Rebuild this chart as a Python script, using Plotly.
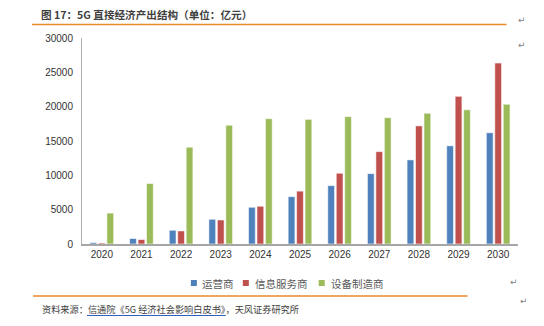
import plotly.graph_objects as go

years = ["2020", "2021", "2022", "2023", "2024", "2025", "2026", "2027", "2028", "2029", "2030"]
operators = [200, 800, 2000, 3600, 5350, 6900, 8500, 10250, 12250, 14300, 16200]
info_services = [150, 650, 1900, 3500, 5500, 7700, 10300, 13450, 17200, 21500, 26350]
equipment = [4500, 8800, 14100, 17300, 18250, 18150, 18550, 18400, 19050, 19550, 20350]
series_names = ["运营商", "信息服务商", "设备制造商"]
colors = ["#4F81BD", "#C0504D", "#9BBB59"]
yticks = [0, 5000, 10000, 15000, 20000, 25000, 30000]
ytick_text = ["0", "5000", "10000", "15000", "20000", "25000", "30000"]

W, H = 544, 326
L, R, T, B = 82, 518.5, 38, 244

def xp(px):
    return (px - L) / (R - L)

def yp(py):
    return (B - py) / (B - T)

fig = go.Figure()
for name, vals, c in zip(series_names, [operators, info_services, equipment], colors):
    fig.add_trace(go.Bar(
        x=years, y=vals, name=name,
        marker=dict(color=c, line=dict(color="rgba(255,255,255,0.7)", width=0.8)),
    ))

cjk = "Noto Sans CJK SC"
num = "Arial, Liberation Sans, sans-serif"
fig.update_layout(
    width=W, height=H,
    margin=dict(l=L, r=W - R, t=T, b=H - B),
    paper_bgcolor="white", plot_bgcolor="white",
    barmode="group", bargap=0.36, bargroupgap=0.2,
    showlegend=False,
    xaxis=dict(showline=True, linecolor="#A6A6A6", linewidth=1.5, ticks="",
               tickfont=dict(family=num, size=10, color="#333333"),
               showgrid=False),
    yaxis=dict(range=[0, 30000], tickvals=yticks, ticktext=ytick_text, showline=True,
               linecolor="#B0B0B0", linewidth=1, ticks="", showgrid=False, zeroline=False,
               tickfont=dict(family=num, size=10, color="#333333"), ticklabelstandoff=6),
    font=dict(family=cjk),
)

# Legend drawn as colored squares + text
legend_pos = [(191, 200), (243, 253), (319, 329)]
for (sx, tx), name, c in zip(legend_pos, series_names, colors):
    fig.add_shape(type="rect", xref="paper", yref="paper",
                  x0=xp(sx), x1=xp(sx + 6), y0=yp(286), y1=yp(280),
                  fillcolor=c, line=dict(width=0))
    fig.add_annotation(text=name, xref="paper", yref="paper", x=xp(tx), y=yp(283),
                       xanchor="left", yanchor="middle", showarrow=False,
                       font=dict(family=cjk, size=10.5, color="#595959"))

# Title
fig.add_annotation(text="<b>图 17：5G 直接经济产出结构（单位：亿元）</b>",
                   xref="paper", yref="paper", x=xp(39), y=yp(14),
                   xanchor="left", yanchor="middle", showarrow=False,
                   font=dict(family=cjk, size=10.6, color="#3F3F3F"))
# Orange rules
fig.add_shape(type="line", xref="paper", yref="paper", x0=xp(32), x1=xp(507),
              y0=yp(24.5), y1=yp(24.5), line=dict(color="#E98A2D", width=1.5))
fig.add_shape(type="line", xref="paper", yref="paper", x0=xp(33), x1=xp(468),
              y0=yp(296), y1=yp(296), line=dict(color="#E98A2D", width=1.5))
# Source
fig.add_annotation(text="资料来源：信通院《5G 经济社会影响白皮书》，天风证券研究所",
                   xref="paper", yref="paper", x=xp(40), y=yp(309),
                   xanchor="left", yanchor="middle", showarrow=False,
                   font=dict(family=cjk, size=9.2, color="#404040"))
fig.add_shape(type="line", xref="paper", yref="paper", x0=xp(87), x1=xp(226),
              y0=yp(315.5), y1=yp(315.5), line=dict(color="#2F5FC0", width=1))
# paragraph marks
for (x, y) in [(529, 13), (529, 38), (521, 289), (531, 308)]:
    fig.add_annotation(text="↵", xref="paper", yref="paper", x=xp(x), y=yp(y),
                       showarrow=False, font=dict(family="DejaVu Sans", size=9, color="#808080"))

fig.write_html("out.html")
